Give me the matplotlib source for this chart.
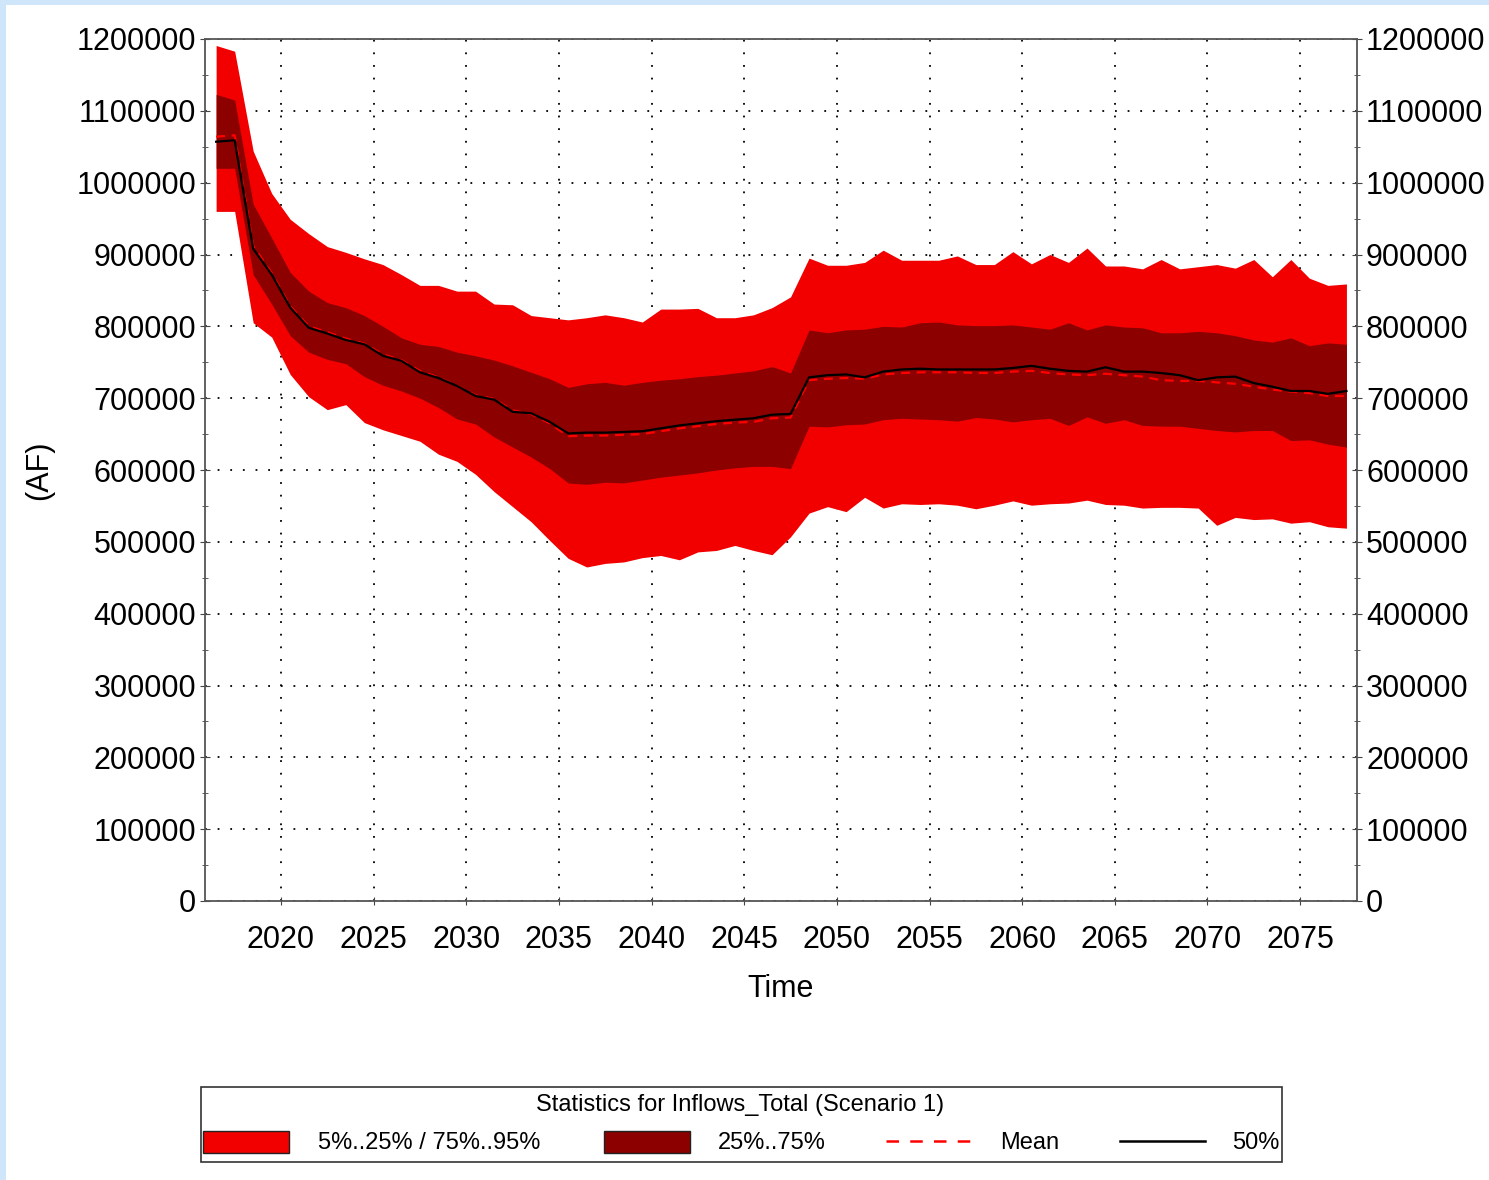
import numpy as np
import matplotlib
matplotlib.use('Agg')
import matplotlib.pyplot as plt
from matplotlib.patches import Rectangle
from matplotlib.lines import Line2D
from matplotlib.ticker import MultipleLocator

plt.rcParams['font.family'] = ['Liberation Sans', 'DejaVu Sans']

# yearly values (thousand AF), plotted at mid-year
years = np.arange(2016.5, 2078.0, 1.0)
p5 = [960, 960, 805, 785, 733, 702, 684, 691, 666, 656, 648, 640, 622, 612, 594,
      570, 549, 528, 502, 477, 465, 470, 472, 478, 481, 475, 486, 488, 495, 488,
      482, 507, 540, 549, 542, 562, 547, 553, 552, 553, 551, 546, 551, 557, 551,
      553, 554, 558, 552, 551, 547, 548, 548, 547, 523, 534, 531, 532, 526, 528,
      521, 519]
p25 = [1020, 1020, 872, 831, 787, 764, 754, 748, 730, 718, 710, 700, 687, 671, 664,
       646, 632, 618, 602, 582, 580, 583, 582, 586, 590, 593, 596, 600, 603, 605,
       605, 602, 661, 660, 663, 664, 670, 672, 671, 670, 668, 673, 671, 667, 670,
       672, 662, 674, 665, 670, 662, 661, 661, 658, 655, 653, 655, 655, 641, 642,
       636, 632]
p50 = [1057, 1059, 908, 872, 826, 798, 790, 781, 775, 759, 752, 736, 728, 717, 703,
       698, 681, 679, 667, 651, 652, 652, 653, 654, 658, 662, 665, 668, 670, 672,
       677, 678, 729, 732, 733, 729, 737, 740, 741, 740, 740, 740, 740, 742, 745,
       741, 738, 737, 743, 737, 737, 735, 732, 725, 729, 730, 721, 716, 710, 710,
       706, 710]
mean = [1064, 1066, 912, 874, 828, 800, 792, 783, 776, 761, 753, 738, 729, 717, 704,
        699, 683, 678, 665, 647, 648, 648, 649, 650, 654, 658, 661, 664, 666, 667,
        672, 673, 725, 727, 728, 727, 733, 735, 736, 736, 736, 735, 735, 737, 738,
        735, 733, 732, 734, 732, 730, 725, 724, 724, 722, 720, 716, 712, 709, 707,
        703, 703]
p75 = [1123, 1115, 970, 923, 875, 849, 833, 826, 815, 800, 784, 775, 772, 764, 759,
       753, 745, 736, 727, 715, 720, 722, 718, 722, 725, 727, 730, 732, 735, 738,
       744, 735, 795, 791, 795, 796, 800, 799, 805, 806, 802, 801, 801, 802, 799,
       796, 805, 795, 802, 799, 798, 791, 791, 793, 791, 787, 781, 778, 784, 773,
       777, 775]
p95 = [1191, 1183, 1044, 985, 949, 929, 911, 903, 894, 886, 872, 857, 857, 849, 849,
       831, 830, 815, 812, 809, 812, 816, 812, 806, 824, 824, 825, 812, 812, 816,
       826, 841, 895, 885, 885, 889, 906, 892, 892, 892, 898, 886, 886, 904, 887,
       900, 889, 909, 884, 884, 880, 893, 880, 883, 886, 881, 893, 869, 893, 867,
       857, 859]

light = '#f20000'
dark = '#8c0000'

W, H = 1489, 1180
fig = plt.figure(figsize=(W / 100, H / 100), dpi=100, facecolor='#cfe6fa')
fig.patches.append(Rectangle((6 / W, 0), 1 - 6 / W, 1 - 5 / H, transform=fig.transFigure,
                             facecolor='white', edgecolor='none', zorder=-5))

ax = fig.add_axes([205 / W, 1 - 901 / H, (1357 - 205) / W, (901 - 39) / H])
ax.set_zorder(2)
k = lambda a: np.array(a) * 1000.0

ax.fill_between(years, k(p5), k(p95), color=light, lw=0, zorder=2)
ax.fill_between(years, k(p25), k(p75), color=dark, lw=0, zorder=3)
ax.plot(years, k(mean), color='#ff0000', lw=1.6, ls=(0, (4, 3)), zorder=4)
ax.plot(years, k(p50), color='black', lw=1.6, zorder=5)

ax.set_xlim(2015.9, 2078.07)
ax.set_ylim(0, 1200000)
ax.xaxis.set_major_locator(MultipleLocator(5))
ax.yaxis.set_major_locator(MultipleLocator(100000))
ax.yaxis.set_minor_locator(MultipleLocator(50000))
ax.grid(True, which='major', color='black', lw=1.3, ls=(0, (1, 6)))
for g in ax.get_xgridlines() + ax.get_ygridlines():
    g.set_zorder(6)

ax.tick_params(axis='both', which='both', direction='inout', labelsize=22, color='#444444')
ax.tick_params(axis='y', which='major', length=7, pad=3, right=True, labelright=True)
ax.tick_params(axis='y', which='minor', length=5, right=True)
ax.tick_params(axis='x', which='major', length=6, pad=14)
ax.yaxis.set_major_formatter(plt.FuncFormatter(lambda v, p: '%d' % v))
for s in ax.spines.values():
    s.set_color('#555555')
    s.set_linewidth(1.3)

ax.set_xlabel('Time', fontsize=22, labelpad=14)
ax.set_ylabel('(AF)', fontsize=22, labelpad=16)

# legend box
def fx(x):
    return x / W

def fy(y):
    return 1 - y / H

fig.patches.append(Rectangle((fx(201), fy(1162)), fx(1282) - fx(201), fy(1087) - fy(1162),
                             transform=fig.transFigure, facecolor='white',
                             edgecolor='#333333', lw=1.2))
fig.text(fx(740), fy(1105), 'Statistics for Inflows_Total (Scenario 1)', ha='center',
         va='center', fontsize=17)
fig.patches.append(Rectangle((fx(203), fy(1153)), fx(289) - fx(203), fy(1131) - fy(1153),
                             transform=fig.transFigure, facecolor=light, edgecolor='#222222', lw=1))
fig.patches.append(Rectangle((fx(604), fy(1153)), fx(690) - fx(604), fy(1131) - fy(1153),
                             transform=fig.transFigure, facecolor=dark, edgecolor='#222222', lw=1))
fig.lines.append(Line2D([fx(886), fx(972)], [fy(1141), fy(1141)], transform=fig.transFigure,
                        color='#ff0000', lw=1.8, ls=(0, (5, 4.5))))
fig.lines.append(Line2D([fx(1120), fx(1205)], [fy(1141), fy(1141)], transform=fig.transFigure,
                        color='black', lw=1.8))
for x, t in [(318, '5%..25% / 75%..95%'), (718, '25%..75%'), (1000, 'Mean'), (1232, '50%')]:
    fig.text(fx(x), fy(1143), t, ha='left', va='center', fontsize=17)

fig.savefig('out.png', dpi=100, facecolor=fig.get_facecolor())
